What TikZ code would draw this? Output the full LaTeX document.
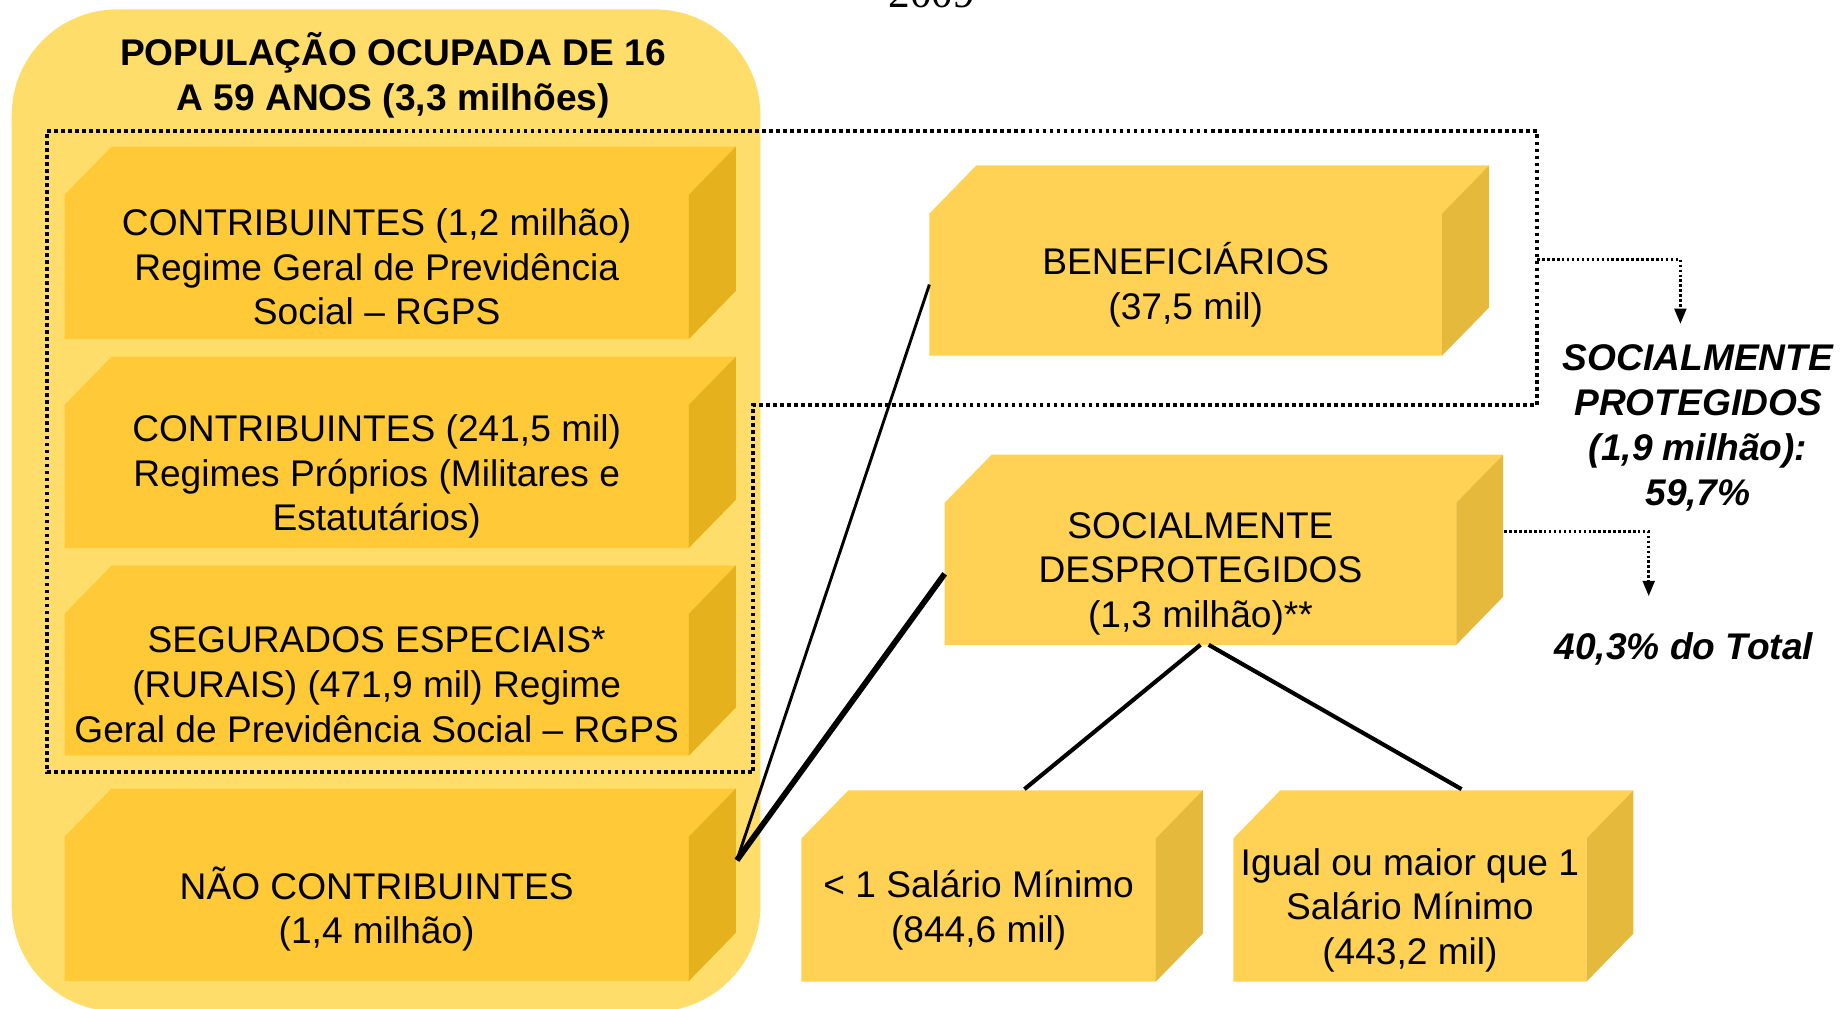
\documentclass[tikz,border=0pt]{standalone}
\usepackage{fontspec}
\setmainfont{Liberation Sans}
\newfontfamily\serifa{Liberation Serif}
\usetikzlibrary{calc, backgrounds, arrows.meta}
\definecolor{fundo}{RGB}{255, 221, 107}
\definecolor{ouro}{RGB}{255, 197, 42}
\definecolor{ouroesc}{RGB}{223, 168, 10}

\begin{document}
\begin{tikzpicture}[x=0.1mm, y=-0.1mm,
  caixa/.style={align=center, inner sep=0pt, outer sep=0pt, font=\fontsize{9}{10.8}\selectfont},
  face/.style={fill=ouro, fill opacity=0.8},
  lado/.style={fill=ouroesc, fill opacity=0.8},
  rotulo/.style={align=center, font=\fontsize{9}{10.9}\selectfont\bfseries\itshape},
  pontilhado/.style={line width=1pt, dash pattern=on 0.9pt off 0.8pt},
  seta/.style={line width=0.7pt, dash pattern=on 0.6pt off 0.6pt, -{Triangle[length=1.3mm, width=1mm]}}]

  \useasboundingbox (0, 0) rectangle (1568, 859);
  \clip (0, 0) rectangle (1568, 859);

  \node[anchor=base, font=\serifa\fontsize{10.5}{12}\selectfont] (ano) at (794, 6) {2009};

  \node[caixa, font=\fontsize{9}{10.8}\selectfont\bfseries] (titulo) at (335, 64)
  {POPULAÇÃO OCUPADA DE 16\\A 59 ANOS (3,3 milhões)};

  % caixas da esquerda
  \node[caixa, minimum width=53.2mm, minimum height=12.3mm] (rgps) at (321, 227.5)
  {CONTRIBUINTES (1,2 milhão)\\Regime Geral de Previdência\\Social – RGPS};
  \node[caixa, minimum width=53.2mm, minimum height=12.2mm] (rpps) at (321, 406)
  {CONTRIBUINTES (241,5 mil)\\Regimes Próprios (Militares e\\Estatutários)};
  \node[caixa, minimum width=53.2mm, minimum height=12.1mm] (segurados) at (321, 583.5)
  {SEGURADOS ESPECIAIS*\\(RURAIS) (471,9 mil) Regime\\Geral de Previdência Social – RGPS};
  \node[caixa, minimum width=53.2mm, minimum height=12.3mm] (naocontrib) at (321, 774.5)
  {NÃO CONTRIBUINTES\\(1,4 milhão)};

  % caixas da direita
  \node[caixa, minimum width=43.7mm, minimum height=12.1mm] (benef) at (1010.5, 242.5)
  {BENEFICIÁRIOS\\(37,5 mil)};
  \node[caixa, minimum width=43.6mm, minimum height=12.1mm] (desprot) at (1023, 489)
  {SOCIALMENTE\\DESPROTEGIDOS\\(1,3 milhão)**};
  \node[caixa, minimum width=30.2mm, minimum height=12.2mm] (menor) at (834, 775.5)
  {< 1 Salário Mínimo\\(844,6 mil)};
  \node[caixa, minimum width=30.1mm, minimum height=12.2mm] (maior) at (1201.5, 775.5)
  {Igual ou maior que 1\\Salário Mínimo\\(443,2 mil)};

  \node[rotulo] (protegidos) at (1447, 365)
  {SOCIALMENTE\\PROTEGIDOS\\(1,9 milhão):\\59,7\%};
  \node[rotulo] (total) at (1435, 553) {40,3\% do Total};

  \begin{scope}[on background layer]
    \fill[fundo, rounded corners=9mm] (10, 8) rectangle (648, 862);
    \foreach \c in {rgps, rpps, segurados, naocontrib, benef, desprot, menor, maior} {
      \fill[face] (\c.south west) -- (\c.north west) -- ++(40, -41)
        -- ($(\c.north east)+(40, -41)$) -- (\c.north east) -- (\c.south east) -- cycle;
      \fill[lado] (\c.north east) -- ++(40, -41)
        -- ($(\c.south east)+(40, -41)$) -- (\c.south east) -- cycle;
    }
  \end{scope}

  % moldura pontilhada
  \coordinate (m1) at (40, 112);
  \coordinate (m2) at (1310, 112);
  \coordinate (m3) at (1310, 345);
  \coordinate (m4) at (642, 345);
  \coordinate (m5) at (642, 658);
  \coordinate (m6) at (40, 658);
  \draw[pontilhado] (m1) -- (m2) -- (m3) -- (m4) -- (m5) -- (m6) -- cycle;

  \coordinate (saida) at (1310, 221);
  \coordinate (alvo1) at (1432, 276);
  \coordinate (alvo2) at (1405, 508);
  \draw[seta] (saida) -| (alvo1);
  \draw[seta] ($(desprot.east)+(41, -36)$) -| (alvo2);

  \coordinate (juncao) at ($(naocontrib.north east)+(41, 20)$);
  \draw[line width=0.7pt] (juncao) -- (benef.west);
  \draw[line width=1.4pt] (juncao) -- (desprot.west);
  \draw[line width=1pt] (desprot.south) -- ($(menor.north)+(39, -42)$);
  \draw[line width=1pt] ($(desprot.south)+(7, 0)$) -- ($(maior.north)+(44, -42)$);

\end{tikzpicture}
\end{document}
